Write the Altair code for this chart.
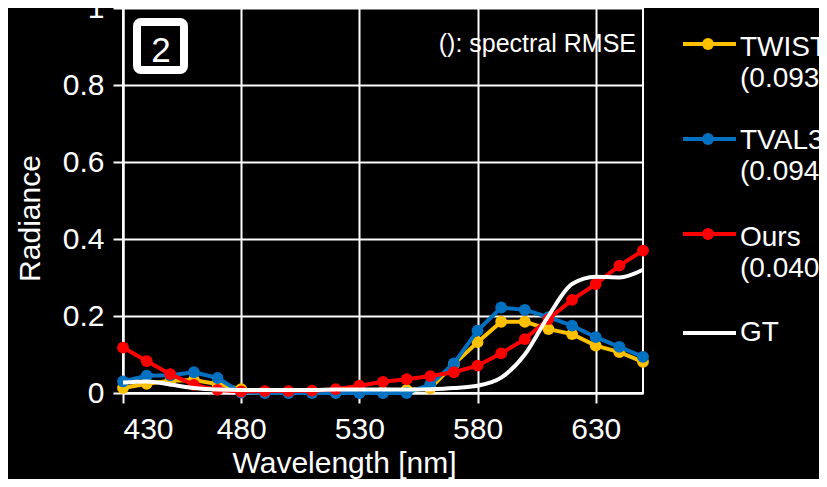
import altair as alt
import pandas as pd

wavelength = [430, 440, 450, 460, 470, 480, 490, 500, 510, 520, 530, 540,
              550, 560, 570, 580, 590, 600, 610, 620, 630, 640, 650]
twist = [0.013, 0.024, 0.032, 0.034, 0.023, 0.010, 0.003, 0.002, 0.002, 0.002, 0.002, 0.002,
         0.008, 0.012, 0.075, 0.132, 0.185, 0.185, 0.166, 0.153, 0.123, 0.106, 0.081]
tval3 = [0.030, 0.045, 0.046, 0.054, 0.039, 0.001, 0.000, 0.000, 0.000, 0.000, 0.000, 0.000,
         0.000, 0.022, 0.077, 0.162, 0.222, 0.216, 0.197, 0.175, 0.145, 0.120, 0.094]
ours = [0.118, 0.083, 0.049, 0.021, 0.008, 0.004, 0.005, 0.005, 0.006, 0.010, 0.019, 0.029,
        0.036, 0.044, 0.054, 0.071, 0.103, 0.140, 0.192, 0.242, 0.283, 0.331, 0.370]
gt = [0.027, 0.030, 0.022, 0.013, 0.009, 0.008, 0.008, 0.008, 0.008, 0.009, 0.009, 0.009,
      0.009, 0.010, 0.013, 0.019, 0.040, 0.100, 0.200, 0.283, 0.302, 0.300, 0.320]

series_names = ["TWIST", "TVAL3", "Ours", "GT"]
series_values = [twist, tval3, ours, gt]
series_colors = ["#FFC000", "#0070C0", "#FF0000", "#FFFFFF"]
legend_rmse = ["(0.093)", "(0.094)", "(0.040)", ""]

x_ticks = [430, 480, 530, 580, 630]
y_ticks = [0, 0.2, 0.4, 0.6, 0.8, 1]

FONT = "Liberation Sans"
W, H = 520, 385

x_enc = alt.X("wl:Q", scale=alt.Scale(domain=[430, 650], nice=False, zero=False),
              axis=alt.Axis(values=x_ticks, title="Wavelength [nm]", titleX=221, titleY=79,
                            titleBaseline="alphabetic", labelPadding=11, tickSize=10))
y_enc = alt.Y("v:Q", scale=alt.Scale(domain=[0, 1], nice=False),
              axis=alt.Axis(values=y_ticks, format="~g", title="Radiance",
                            titleX=-93, titleY=210, titleBaseline="middle",
                            labelPadding=9, tickSize=10))

layers = []
for name, vals, col in zip(series_names, series_values, series_colors):
    df = pd.DataFrame({"wl": wavelength, "v": vals})
    if name == "GT":
        layers.append(alt.Chart(df).mark_line(color=col, strokeWidth=4, interpolate="monotone")
                      .encode(x=x_enc, y=y_enc))
    else:
        base = alt.Chart(df).encode(x=x_enc, y=y_enc)
        layers.append(base.mark_line(color=col, strokeWidth=4))
        layers.append(base.mark_circle(color=col, size=140, opacity=1))

one = alt.Data(values=[{"a": 1}])

# legend (manual)
leg_marker_y = [36, 131, 226, 325]
leg_text_y = [48, 141, 238, 333]
for name, col, rm, my, ty in zip(series_names, series_colors, legend_rmse, leg_marker_y, leg_text_y):
    layers.append(alt.Chart(one).mark_rule(color=col, strokeWidth=4).encode(
        x=alt.value(560), x2=alt.value(613), y=alt.value(my)))
    if name != "GT":
        layers.append(alt.Chart(one).mark_circle(color=col, size=140, opacity=1).encode(
            x=alt.value(585), y=alt.value(my)))
    layers.append(alt.Chart(one).mark_text(text=name, color="white", font=FONT, fontSize=28,
                                           align="left", baseline="alphabetic").encode(
        x=alt.value(617), y=alt.value(ty)))
    if rm:
        layers.append(alt.Chart(one).mark_text(text=rm, color="white", font=FONT, fontSize=28,
                                               align="left", baseline="alphabetic").encode(
            x=alt.value(617), y=alt.value(ty + 31)))

# annotations
layers.append(alt.Chart(one).mark_text(text="(): spectral RMSE", color="white", font=FONT,
                                       fontSize=25, align="right", baseline="alphabetic").encode(
    x=alt.value(513), y=alt.value(44)))
layers.append(alt.Chart(one).mark_rect(fill="black", stroke="white", strokeWidth=8,
                                       cornerRadius=4).encode(
    x=alt.value(14), x2=alt.value(61), y=alt.value(14), y2=alt.value(62)))
layers.append(alt.Chart(one).mark_text(text="2", color="white", font=FONT, fontSize=35,
                                       align="center", baseline="alphabetic").encode(
    x=alt.value(38), y=alt.value(54)))

chart = alt.layer(*layers).properties(
    width=W, height=H,
    autosize=alt.AutoSizeParams(type="none"),
    padding={"left": 115, "top": 0, "right": 176, "bottom": 86},
    background="black",
).configure_view(
    stroke="white", strokeWidth=2
).configure_axis(
    labelFont=FONT, titleFont=FONT, labelFontSize=30, titleFontSize=30,
    labelColor="white", titleColor="white", titleFontWeight="normal",
    domainColor="white", domainWidth=2, tickColor="white", tickWidth=2,
    gridColor="white", gridWidth=2, gridOpacity=1,
)

chart.save("out.html", embed_options={"renderer": "svg", "actions": False})
